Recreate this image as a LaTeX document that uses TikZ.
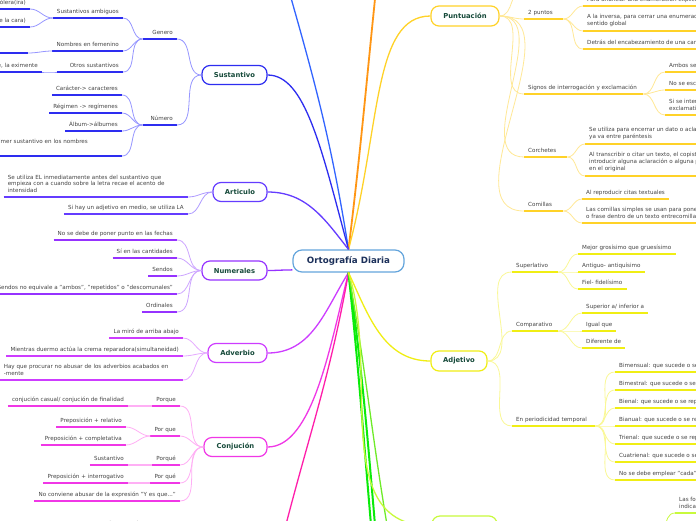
\documentclass[tikz,border=0pt]{standalone}
\usepackage{fontspec}
\setmainfont{DejaVu Sans}
\usepackage{xcolor}
\usepackage{tikz}
\definecolor{rootblue}{RGB}{100,165,220}
\definecolor{roottext}{RGB}{28,48,90}
\definecolor{topictext}{RGB}{22,74,58}
\definecolor{leaftext}{RGB}{68,68,68}
\definecolor{sustblue}{RGB}{45,45,240}
\definecolor{sustpale}{RGB}{150,150,255}
\definecolor{artviolet}{RGB}{100,60,255}
\definecolor{artpale}{RGB}{175,155,255}
\definecolor{numpurple}{RGB}{150,50,255}
\definecolor{numpale}{RGB}{205,165,255}
\definecolor{advviolet}{RGB}{205,60,255}
\definecolor{advpale}{RGB}{230,170,255}
\definecolor{conjpink}{RGB}{240,55,230}
\definecolor{conjpale}{RGB}{255,175,245}
\definecolor{puntgold}{RGB}{255,210,40}
\definecolor{puntpale}{RGB}{255,232,150}
\definecolor{adjyellow}{RGB}{240,238,20}
\definecolor{adjpale}{RGB}{250,248,150}
\definecolor{skyblue}{RGB}{50,100,255}
\definecolor{tangerine}{RGB}{255,150,20}
\definecolor{hotpink}{RGB}{255,30,170}
\definecolor{vivgreen}{RGB}{10,235,10}
\definecolor{leafgreen}{RGB}{110,235,40}
\definecolor{limegreen}{RGB}{200,250,60}
\newcommand{\leafsize}{\fontsize{5.6}{6.7}\selectfont}

\begin{document}
\begin{tikzpicture}[x=1pt, y=1pt,
    root/.style={rectangle, rounded corners=9pt, draw=rootblue, line width=1.2pt, fill=white, font=\fontsize{8.7}{10}\selectfont\bfseries, text=roottext, minimum width=111pt, minimum height=22pt},
    topic/.style={rectangle, rounded corners=8pt, draw=#1, line width=1.2pt, fill=white, font=\fontsize{6.8}{8}\selectfont\bfseries, text=topictext, minimum height=19pt},
    leaf/.style={font=\leafsize, text=leaftext, inner xsep=4pt, inner ysep=3.2pt, text depth=1.3pt},
    multi/.style={text depth=, inner ysep=4.3pt},
    lft/.style={leaf, anchor=south east, align=right},
    rgt/.style={leaf, anchor=south west, align=left},
    ul/.style={append after command={(\tikzlastnode.south west) edge[draw=#1, line width=1.8pt] (\tikzlastnode.south east)}},
    link/.style={draw=#1, line width=0.8pt},
    branch/.style={draw=#1, line width=1.3pt}
]
\useasboundingbox (0,0) rectangle (696,-520);
\fill[white] (0,0) rectangle (696,-520);
\clip (0,0) rectangle (696,-520);

\node[root] (root) at (348.5,-261) {Ortografía Diaria};

\node[topic=sustblue, minimum width=65pt] (sust) at (234.5,-75) {Sustantivo};
\node[topic=artviolet, minimum width=54pt] (art) at (240,-192) {Articulo};
\node[topic=numpurple, minimum width=65pt] (num) at (234.5,-270.5) {Numerales};
\node[topic=advviolet, minimum width=59pt] (adv) at (237.5,-353) {Adverbio};
\node[topic=conjpink, minimum width=63pt] (conj) at (235.5,-447) {Conjución};
\node[topic=puntgold, minimum width=68pt, minimum height=20pt] (punt) at (465,-16) {Puntuación};
\node[topic=adjyellow, minimum width=56pt, minimum height=20pt] (adj) at (459,-361) {Adjetivo};
\node[topic=limegreen, minimum width=65pt, minimum height=20pt] (lime) at (464.5,-526) {};

\coordinate (upblue) at (283,30);
\coordinate (uporange) at (378,30);
\coordinate (downpink) at (280,-548);
\coordinate (downgreenA) at (373,-548);
\coordinate (downgreenB) at (377,-548);
\coordinate (downleaf) at (391,-548);
\coordinate (puntup) at (524,12);
\coordinate (limeup) at (655,-545);

\draw[branch=skyblue] (root.north) to[out=99,in=-74] (upblue);
\draw[branch=tangerine, line width=1.8pt] (root.north) to[out=83,in=-96] (uporange);
\draw[branch=puntgold] (root.north) to[out=75,in=180,out looseness=1.3,in looseness=0.6] (punt.west);
\draw[branch=sustblue] (root.north) to[out=105,in=0,out looseness=1.4,in looseness=0.5] (sust.east);
\draw[branch=artviolet] (root.north) to[out=128,in=0] (art.east);
\draw[branch=numpurple] (root.189) to[out=180,in=0] (num.east);
\draw[branch=advviolet] (root.south) to[out=-122,in=0] (adv.east);
\draw[branch=conjpink] (root.south) to[out=-104,in=0,in looseness=0.6] (conj.east);
\draw[branch=hotpink] (root.south) to[out=-100,in=76] (downpink);
\draw[branch=vivgreen, line width=2pt] (root.south) to[out=-84,in=95] (downgreenA);
\draw[branch=vivgreen, line width=2pt] (root.south) to[out=-82,in=95] (downgreenB);
\draw[branch=leafgreen] (root.south) to[out=-80,in=100] (downleaf);
\draw[branch=limegreen] (root.south) to[out=-72,in=180] (lime.west);
\draw[branch=adjyellow] (root.south) to[out=-65,in=180] (adj.west);

\node[lft, ul=sustblue, text width=26pt] (gen) at (177,-39) {Genero};
\node[lft, ul=sustblue, text width=26pt] (nume) at (177,-125) {Número};
\node[lft, ul=sustblue] (amb) at (123,-18) {Sustantivos ambiguos};
\node[lft, ul=sustblue] (fem) at (123,-51) {Nombres en femenino};
\node[lft, ul=sustblue, text width=58pt] (otros) at (123,-72) {Otros sustantivos};
\node[lft, ul=sustblue] (colera) at (30,-9) {El cólera (enfermedad)/ la cólera(ira)};
\node[lft, ul=sustblue] (frente) at (30,-27) {El frente (militar)/ la frente (parte de la cara)};
\node[lft, ul=sustblue, minimum width=40pt] (femchild) at (28,-53) {};
\node[lft, ul=sustblue] (exim) at (42,-72) {La atenuante, la eximente};
\node[lft, ul=sustblue] (carac) at (122,-95) {Carácter-> caracteres};
\node[lft, ul=sustblue] (regim) at (122,-113) {Régimen -> regímenes};
\node[lft, ul=sustblue] (album) at (122,-131) {Álbum->álbumes};
\node[lft, multi, ul=sustblue, align=left, text width=196pt] (compu) at (122,-156) {Se pone en plural solo el primer sustantivo en los nombres\\compuestos};

\draw[link=sustpale] (sust.west) to[out=180,in=0] (gen.south east);
\draw[link=sustpale] (sust.west) to[out=180,in=0] (nume.south east);
\draw[link=sustpale] (gen.south west) to[out=180,in=0] (amb.south east);
\draw[link=sustpale] (gen.south west) to[out=180,in=0] (fem.south east);
\draw[link=sustpale] (gen.south west) to[out=180,in=0] (otros.south east);
\draw[link=sustpale] (amb.south west) to[out=180,in=0] (colera.south east);
\draw[link=sustpale] (amb.south west) to[out=180,in=0] (frente.south east);
\draw[link=sustpale] (fem.south west) to[out=180,in=0] (femchild.south east);
\draw[link=sustpale] (otros.south west) to[out=180,in=0] (exim.south east);
\draw[link=sustpale] (nume.south west) to[out=180,in=0] (carac.south east);
\draw[link=sustpale] (nume.south west) to[out=180,in=0] (regim.south east);
\draw[link=sustpale] (nume.south west) to[out=180,in=0] (album.south east);
\draw[link=sustpale] (nume.south west) to[out=180,in=0] (compu.south east);

\node[lft, multi, ul=artviolet, align=left, text width=176pt] (elart) at (188,-197) {Se utiliza EL inmediatamente antes del sustantivo que\\empieza con a cuando sobre la letra recae el acento de\\intensidad};
\node[lft, ul=artviolet] (laart) at (188,-214) {Si hay un adjetivo en medio, se utiliza LA};
\draw[link=artpale] (art.west) to[out=180,in=0] (elart.south east);
\draw[link=artpale] (art.west) to[out=180,in=0] (laart.south east);

\node[lft, ul=numpurple] (fechas) at (177,-240) {No se debe de poner punto en las fechas};
\node[lft, ul=numpurple] (cant) at (177,-258) {Sí en las cantidades};
\node[lft, ul=numpurple] (sendos) at (177,-276) {Sendos};
\node[lft, ul=numpurple] (equiv) at (177,-294) {Sendos no equivale a "ambos", "repetidos" o "descomunales"};
\node[lft, ul=numpurple] (ordin) at (177,-312) {Ordinales};
\draw[link=numpale] (num.west) to[out=180,in=0] (fechas.south east);
\draw[link=numpale] (num.west) to[out=180,in=0] (cant.south east);
\draw[link=numpale] (num.west) to[out=180,in=0] (sendos.south east);
\draw[link=numpale] (num.west) to[out=180,in=0] (equiv.south east);
\draw[link=numpale] (num.west) to[out=180,in=0] (ordin.south east);

\node[lft, ul=advviolet] (arriba) at (183,-338) {La miró de arriba abajo};
\node[lft, ul=advviolet] (mientras) at (183,-356) {Mientras duermo actúa la crema reparadora(simultaneidad)};
\node[lft, multi, ul=advviolet, align=left, text width=175pt] (mente) at (183,-380) {Hay que procurar no abusar de los adverbios acabados en\\-mente};
\draw[link=advpale] (adv.west) to[out=180,in=0] (arriba.south east);
\draw[link=advpale] (adv.west) to[out=180,in=0] (mientras.south east);
\draw[link=advpale] (adv.west) to[out=180,in=0] (mente.south east);

\node[lft, ul=conjpink] (porque) at (180,-406) {Porque};
\node[lft, ul=conjpink] (casual) at (128,-406) {conjución casual/ conjución de finalidad};
\node[lft, ul=conjpink] (porquesep) at (180,-436) {Por que};
\node[lft, ul=conjpink] (relat) at (126,-427) {Preposición + relativo};
\node[lft, ul=conjpink] (complet) at (126,-445) {Preposición + completativa};
\node[lft, ul=conjpink] (porquetil) at (180,-465) {Porqué};
\node[lft, ul=conjpink] (sustconj) at (128,-465) {Sustantivo};
\node[lft, ul=conjpink] (porquesep2) at (180,-483) {Por qué};
\node[lft, ul=conjpink] (interrog) at (128,-483) {Preposición + interrogativo};
\node[lft, ul=conjpink] (yesque) at (180,-501) {No conviene abusar de la expresión "Y es que..."};
\node[leaf, anchor=north] (modo) at (125,-518) {Como modo};
\draw[link=conjpale] (conj.west) to[out=180,in=0] (porque.south east);
\draw[link=conjpale] (conj.west) to[out=180,in=0] (porquesep.south east);
\draw[link=conjpale] (conj.west) to[out=180,in=0] (porquetil.south east);
\draw[link=conjpale] (conj.west) to[out=180,in=0] (porquesep2.south east);
\draw[link=conjpale] (conj.west) to[out=180,in=0] (yesque.south east);
\draw[link=conjpale, line width=1.6pt] (porque.south west) to[out=180,in=0] (casual.south east);
\draw[link=conjpale] (porquesep.south west) to[out=180,in=0] (relat.south east);
\draw[link=conjpale] (porquesep.south west) to[out=180,in=0] (complet.south east);
\draw[link=conjpale, line width=1.6pt] (porquetil.south west) to[out=180,in=0] (sustconj.south east);
\draw[link=conjpale, line width=1.6pt] (porquesep2.south west) to[out=180,in=0] (interrog.south east);

\node[rgt, ul=puntgold, text width=31pt] (dosp) at (524,-19) {2 puntos};
\node[rgt, ul=puntgold, text width=111pt] (signos) at (524,-94) {Signos de interrogación y exclamación};
\node[rgt, ul=puntgold, text width=35pt] (corch) at (524,-157) {Corchetes};
\node[rgt, ul=puntgold, text width=31pt] (comil) at (524,-211) {Comillas};
\node[rgt, ul=puntgold] (enum) at (583,-6) {Para anunciar una enumeración explicativa};
\node[rgt, multi, ul=puntgold] (inversa) at (583,-31) {A la inversa, para cerrar una enumeración y anticipar su\\sentido global};
\node[rgt, ul=puntgold] (carta) at (583,-49) {Detrás del encabezamiento de una carta};
\node[rgt, ul=puntgold] (ambos) at (665,-72) {Ambos se escriben};
\node[rgt, ul=puntgold] (noesc) at (665,-90) {No se escribe};
\node[rgt, multi, ul=puntgold] (inter) at (665,-115) {Si se interroga y\\exclamativa};
\node[rgt, multi, ul=puntgold] (dato) at (585,-144) {Se utiliza para encerrar un dato o aclaración que\\ya va entre paréntesis};
\node[rgt, multi, ul=puntgold] (transc) at (585,-176) {Al transcribir o citar un texto, el copista puede\\introducir alguna aclaración o alguna palabra que no aparece\\en el original};
\node[rgt, ul=puntgold] (citas) at (582,-199) {Al reproducir citas textuales};
\node[rgt, multi, ul=puntgold] (simples) at (582,-223) {Las comillas simples se usan para poner una palabra\\o frase dentro de un texto entrecomillado};
\draw[link=puntpale] (punt.east) to[out=0,in=180] (puntup);
\draw[link=puntpale] (punt.east) to[out=0,in=180] (dosp.south west);
\draw[link=puntpale] (punt.east) to[out=0,in=180] (signos.south west);
\draw[link=puntpale] (punt.east) to[out=0,in=180] (corch.south west);
\draw[link=puntpale] (punt.east) to[out=0,in=180] (comil.south west);
\draw[link=puntpale] (dosp.south east) to[out=0,in=180] (enum.south west);
\draw[link=puntpale] (dosp.south east) to[out=0,in=180] (inversa.south west);
\draw[link=puntpale] (dosp.south east) to[out=0,in=180] (carta.south west);
\draw[link=puntpale] (signos.south east) to[out=0,in=180] (ambos.south west);
\draw[link=puntpale] (signos.south east) to[out=0,in=180] (noesc.south west);
\draw[link=puntpale] (signos.south east) to[out=0,in=180] (inter.south west);
\draw[link=puntpale] (corch.south east) to[out=0,in=180] (dato.south west);
\draw[link=puntpale] (corch.south east) to[out=0,in=180] (transc.south west);
\draw[link=puntpale] (comil.south east) to[out=0,in=180] (citas.south west);
\draw[link=puntpale] (comil.south east) to[out=0,in=180] (simples.south west);

\node[rgt, ul=adjyellow, text width=38pt] (superl) at (512,-272) {Superlativo};
\node[rgt, ul=adjyellow, text width=38pt] (compar) at (512,-331) {Comparativo};
\node[rgt, ul=adjyellow, text width=75pt] (period) at (512,-426) {En periodicidad temporal};
\node[rgt, ul=adjyellow] (grosis) at (578,-254) {Mejor grosísimo que gruesísimo};
\node[rgt, ul=adjyellow] (antiq) at (578,-272) {Antiguo- antiquísimo};
\node[rgt, ul=adjyellow] (fidel) at (578,-289) {Fiel- fidelísimo};
\node[rgt, ul=adjyellow] (supinf) at (582,-313) {Superior a/ inferior a};
\node[rgt, ul=adjyellow] (igual) at (582,-331) {Igual que};
\node[rgt, ul=adjyellow] (difer) at (582,-348) {Diferente de};
\node[rgt, ul=adjyellow] (bimen) at (615,-372) {Bimensual: que sucede o se repite dos veces al mes};
\node[rgt, ul=adjyellow] (bimes) at (615,-390) {Bimestral: que sucede o se repite cada dos meses};
\node[rgt, ul=adjyellow] (bienal) at (615,-408) {Bienal: que sucede o se repite cada dos años};
\node[rgt, ul=adjyellow] (bianual) at (615,-426) {Bianual: que sucede o se repite dos veces al año};
\node[rgt, ul=adjyellow] (trienal) at (615,-444) {Trienal: que sucede o se repite cada tres años};
\node[rgt, ul=adjyellow] (cuatri) at (615,-462) {Cuatrienal: que sucede o se repite cada cuatro años};
\node[rgt, ul=adjyellow] (cada) at (615,-480) {No se debe emplear "cada" con estos adjetivos};
\draw[link=adjpale] (adj.east) to[out=0,in=180] (superl.south west);
\draw[link=adjpale] (adj.east) to[out=0,in=180] (compar.south west);
\draw[link=adjpale] (adj.east) to[out=0,in=180] (period.south west);
\draw[link=adjpale] (superl.south east) to[out=0,in=180] (grosis.south west);
\draw[link=adjpale] (superl.south east) to[out=0,in=180] (antiq.south west);
\draw[link=adjpale] (superl.south east) to[out=0,in=180] (fidel.south west);
\draw[link=adjpale] (compar.south east) to[out=0,in=180] (supinf.south west);
\draw[link=adjpale] (compar.south east) to[out=0,in=180] (igual.south west);
\draw[link=adjpale] (compar.south east) to[out=0,in=180] (difer.south west);
\draw[link=adjpale] (period.south east) to[out=0,in=180] (bimen.south west);
\draw[link=adjpale] (period.south east) to[out=0,in=180] (bimes.south west);
\draw[link=adjpale] (period.south east) to[out=0,in=180] (bienal.south west);
\draw[link=adjpale] (period.south east) to[out=0,in=180] (bianual.south west);
\draw[link=adjpale] (period.south east) to[out=0,in=180] (trienal.south west);
\draw[link=adjpale] (period.south east) to[out=0,in=180] (cuatri.south west);
\draw[link=adjpale] (period.south east) to[out=0,in=180] (cada.south west);

\node[rgt, multi, ul=limegreen] (lasfo) at (675,-513) {Las formas\\indicar};
\draw[link=limegreen] (limeup) to[out=0,in=180] (lasfo.south west);
\end{tikzpicture}
\end{document}
